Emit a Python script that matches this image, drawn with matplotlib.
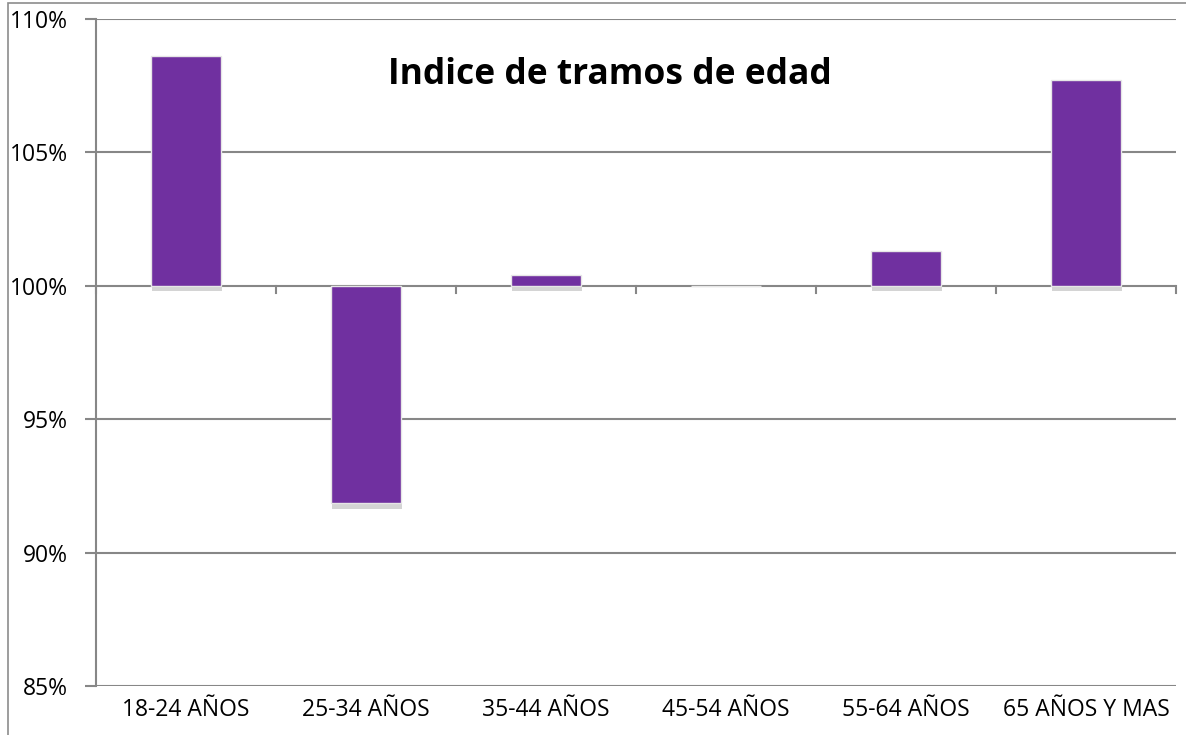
import numpy as np
import matplotlib
matplotlib.use("Agg")
import matplotlib.pyplot as plt
import matplotlib.patheffects as pe
from matplotlib.patches import Rectangle

# data
grupos = ['18-24 AÑOS', '25-34 AÑOS', '35-44 AÑOS', '45-54 AÑOS', '55-64 AÑOS', '65 AÑOS Y MAS']
indice = [108.6, 91.85, 100.4, 100.0, 101.3, 107.7]
yticks = [85, 90, 95, 100, 105, 110]

plt.rcParams['font.family'] = ['Open Sans', 'DejaVu Sans']

fig = plt.figure(figsize=(11.86, 7.35), dpi=100)
ax = fig.add_axes([96/1186, 1-686/735, 1080/1186, 667/735])

# outer chart frame
fig.patches.append(Rectangle((8/1186, -0.1), 1.2, 1-3/735+0.1, transform=fig.transFigure,
                             fill=False, ec='#8c8c8c', lw=1.2))

gris = '#878787'
for y in yticks:
    ax.axhline(y, color=gris, lw=1.5, zorder=1)

x = np.arange(len(grupos))
base = 100
alturas = [v - base for v in indice]
barras = ax.bar(x, alturas, bottom=base, width=0.39, color='#7030A0',
                edgecolor='#e6e6e6', lw=1, zorder=3)
for b in barras:
    b.set_path_effects([pe.SimplePatchShadow(offset=(1, -4), shadow_rgbFace='#aaaaaa', alpha=0.5),
                        pe.Normal()])

ax.set_xlim(-0.5, len(grupos) - 0.5)
ax.set_ylim(85, 110)
ax.set_yticks(yticks)
ax.set_yticklabels(['%d%%' % v for v in yticks], fontsize=16.5)
ax.tick_params(axis='y', length=8, color=gris, width=1.5, pad=12)

# category boundary ticks hanging below the 100% line
for i in range(len(grupos) + 1):
    ax.plot([i - 0.5, i - 0.5], [100, 99.72], color=gris, lw=1.5, zorder=2, clip_on=False)

ax.set_xticks(x)
ax.set_xticklabels(grupos, fontsize=16.5)
ax.tick_params(axis='x', length=0, pad=9)

for s in ['top', 'right', 'bottom']:
    ax.spines[s].set_visible(False)
ax.spines['left'].set_color(gris)
ax.spines['left'].set_linewidth(1.5)

ax.text(0.476, 0.916, 'Indice de tramos de edad', transform=ax.transAxes,
        ha='center', va='center', fontsize=25.5, fontweight='bold')

fig.savefig('out.png', dpi=100)
